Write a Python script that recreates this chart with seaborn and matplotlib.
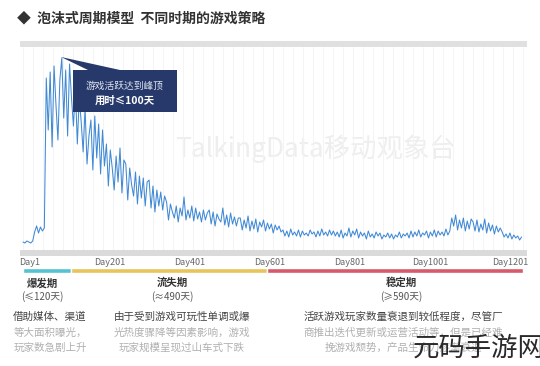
import numpy as np
import pandas as pd
import matplotlib
matplotlib.use("Agg")
import matplotlib.pyplot as plt
from matplotlib.patches import Rectangle, Polygon
from matplotlib.transforms import ScaledTranslation
import seaborn as sns

launch_values = [6, 5, 7, 6, 5, 7, 16, 22, 15, 21, 17, 20]
burst_values = [170, 118, 176, 101, 182, 143, 108, 168, 190, 130, 178, 112, 184, 150, 122, 160, 104]
churn_values = [150, 126, 96, 140, 84, 112, 128, 78, 132, 90, 124, 74, 118, 82,
                104, 62, 98, 80, 58, 92, 66, 100, 55, 88,
                84, 48, 80, 63, 52, 76, 44, 72, 50, 70, 42, 66,
                68, 40, 62, 36, 58, 42, 56, 38, 52,
                46, 28, 44, 36, 30, 42, 26, 40, 32, 51, 28, 38, 30, 42, 27, 40, 29, 36, 26, 38, 28, 35,
                38, 24, 36, 22, 34, 29, 26, 40, 23, 33, 21, 35, 24, 31, 22, 30,
                30, 18, 28, 20, 32, 17, 27, 19, 29, 16, 26, 21, 28, 17, 25, 19, 24, 15, 23, 18, 22, 16]
stable_values = [18, 12, 17, 11, 19, 13, 16, 12, 18, 11, 17, 13, 15, 12, 18, 14, 16, 11, 17, 12,
                 19, 13, 16, 12, 18, 13, 17, 12,
                 16, 11, 18, 10, 15, 12, 20, 11, 17, 13, 19, 10, 16, 12, 15, 9, 17, 11, 14, 10,
                 16, 12, 15, 9, 13, 11, 15, 10, 14, 9, 13, 11, 16, 10, 14, 12, 15, 10, 17, 11,
                 16, 12, 18, 11, 15, 13, 17, 10, 16, 12, 18, 11, 17, 13, 16, 12, 19, 13, 17]
revival_values = [30, 22, 33, 18, 28, 20, 30, 17, 27, 19, 29, 26, 17, 28, 16, 24, 18, 29, 15,
                  25, 17, 23, 14, 22, 16, 20]
tail_values = [16, 11, 14, 10, 15, 9, 13, 10, 12, 8, 11]

tick_days = [1, 201, 401, 601, 801, 1001, 1201]
tick_labels = ["Day1", "Day201", "Day401", "Day601", "Day801", "Day1001", "Day1201"]

phase_start = [1, 120, 610]
phase_end = [120, 610, 1250]
phase_colors = ["#55c3cf", "#e8c45c", "#d65a6c"]
phase_names = ["爆发期", "流失期", "稳定期"]
phase_days = ["(≤120天)", "(≈490天)", "(≥590天)"]
phase_notes = [
    ["借助媒体、渠道", "等大面积曝光，", "玩家数急剧上升"],
    ["由于受到游戏可玩性单调或爆", "光热度骤降等因素影响，游戏", "玩家规模呈现过山车式下跌"],
    ["活跃游戏玩家数量衰退到较低程度，尽管厂", "商推出迭代更新或运营活动等，但是已经难", "挽游戏颓势，产品生命力逐渐衰退"],
]

values = launch_values + burst_values + churn_values + stable_values + revival_values + tail_values
df = pd.DataFrame({"day": 1 + 4.85 * np.arange(len(values)), "active": values})

sns.set_theme(style="white")
plt.rcParams["font.family"] = ["Noto Sans CJK SC", "DejaVu Sans"]
plt.rcParams["axes.unicode_minus"] = False

W, H = 540, 366
fig = plt.figure(figsize=(W / 100, H / 100), dpi=100)
fig.patch.set_facecolor("white")


def fx(px):
    return px / W


def fy(py):
    return 1 - py / H


# main line panel
ax = fig.add_axes([fx(20), fy(250), fx(527) - fx(20), fy(47) - fy(250)])
ax.text(0.582, 0.5, "TalkingData移动观象台", transform=ax.transAxes, fontsize=19,
        color="#eeeeee", ha="center", va="center", zorder=0)
sns.lineplot(data=df, x="day", y="active", ax=ax, color="#4089d5", lw=0.75, zorder=3)
ax.set_xlim(-6.5, 1261)
ax.set_ylim(-2, 201)
for s in ax.spines.values():
    s.set_visible(False)
ax.set_yticks([])
ax.set_xlabel("")
ax.set_ylabel("")
ax.set_xticks(np.arange(0, 1261, 25), minor=True)
ax.grid(True, which="minor", axis="x", color="#f3f3f3", lw=0.6)
ax.set_xticks(tick_days, tick_labels)
ax.tick_params(which="both", length=0)
ax.tick_params(axis="x", labelsize=6.5, labelcolor="#666666", pad=5.5)
shift = ScaledTranslation(0.07, 0, fig.dpi_scale_trans)
for lab in ax.get_xticklabels():
    lab.set_transform(lab.get_transform() + shift)

# grey strips above and below the panel
fig.add_artist(Rectangle((fx(20), fy(47)), fx(527) - fx(20), 6 / H,
                         transform=fig.transFigure, color="#e0e0e0", lw=0))
fig.add_artist(Rectangle((fx(20), fy(256)), fx(527) - fx(20), 6 / H,
                         transform=fig.transFigure, color="#dadada", lw=0))

# phase colour band
axb = fig.add_axes([fx(20), fy(273), fx(527) - fx(20), 5 / H])
axb.barh([0] * 3, [e - s for s, e in zip(phase_start, phase_end)], left=phase_start,
         height=1, color=phase_colors)
axb.set_xlim(-6.5, 1261)
axb.set_ylim(-0.5, 0.5)
axb.axis("off")

# peak call-out
navy = "#27396a"
fig.add_artist(Polygon([(fx(61), fy(57)), (fx(88), fy(70)), (fx(120), fy(70))],
                       closed=True, transform=fig.transFigure, color=navy, lw=0))
fig.add_artist(Rectangle((fx(73), fy(112)), fx(177) - fx(73), 42 / H,
                         transform=fig.transFigure, color=navy, lw=0))
fig.text(fx(125), fy(86), "游戏活跃达到峰顶", fontsize=7, color="#dfe6f2",
         ha="center", va="center")
fig.text(fx(125), fy(101), "用时≤100天", fontsize=7.5, color="white",
         weight="bold", ha="center", va="center")

# title
fig.text(fx(17), fy(18), "◆  泡沫式周期模型  不同时期的游戏策略", fontsize=10,
         weight="bold", color="#333333", va="center")

# phase descriptions
title_x = [42, 172, 401]
body_x = [50, 182, 403]
for i in range(3):
    fig.text(fx(title_x[i]), fy(283), phase_names[i], fontsize=7.5, weight="bold",
             color="#333333", ha="center", va="center")
    fig.text(fx(title_x[i]), fy(297), phase_days[i], fontsize=7, color="#555555",
             ha="center", va="center")
    for j, line in enumerate(phase_notes[i]):
        fig.text(fx(body_x[i]), fy(317 + 15.5 * j), line, fontsize=7.6,
                 color="#444444" if j == 0 else "#b0b0b0", ha="center", va="center")

# site watermark
fig.text(fx(413), fy(348), "元码手游网", fontsize=19, color="#2a2a2a",
         weight="light", va="center")

fig.savefig("out.png", dpi=100)
